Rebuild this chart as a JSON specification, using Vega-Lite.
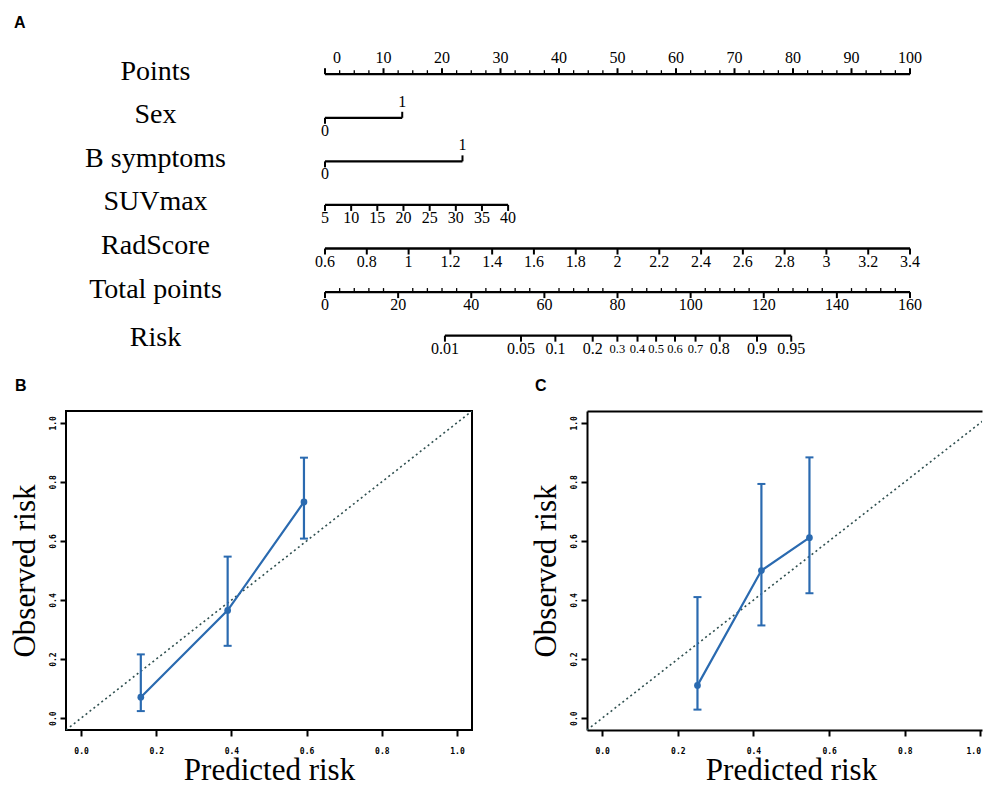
{
  "$schema": "https://vega.github.io/schema/vega-lite/v6.json",
  "padding": 0,
  "background": "white",
  "bounds": "flush",
  "spacing": 41,
  "config": {"view": {"stroke": null}, "font": "Liberation Serif", "text": {"font": "Liberation Serif", "color": "black"}},
  "datasets": {
    "nomo_lines": [
      {"var": "Points", "row": 1, "start": 0, "end": 100},
      {"var": "Sex", "row": 2, "start": 0, "end": 13.2},
      {"var": "B symptoms", "row": 3, "start": 0, "end": 23.5},
      {"var": "SUVmax", "row": 4, "start": 0, "end": 31.3},
      {"var": "RadScore", "row": 5, "start": 0, "end": 100},
      {"var": "Total points", "row": 6, "start": 0, "end": 100},
      {"var": "Risk", "row": 7, "start": 20.5, "end": 79.7}
    ],
    "nomo_ticks": [
      {"var": "Points", "row": 1, "pos": 0, "label": "0"},
      {"var": "Points", "row": 1, "pos": 10, "label": "10"},
      {"var": "Points", "row": 1, "pos": 20, "label": "20"},
      {"var": "Points", "row": 1, "pos": 30, "label": "30"},
      {"var": "Points", "row": 1, "pos": 40, "label": "40"},
      {"var": "Points", "row": 1, "pos": 50, "label": "50"},
      {"var": "Points", "row": 1, "pos": 60, "label": "60"},
      {"var": "Points", "row": 1, "pos": 70, "label": "70"},
      {"var": "Points", "row": 1, "pos": 80, "label": "80"},
      {"var": "Points", "row": 1, "pos": 90, "label": "90"},
      {"var": "Points", "row": 1, "pos": 100, "label": "100"},
      {"var": "Sex", "row": 2, "pos": 0, "label": "0"},
      {"var": "Sex", "row": 2, "pos": 13.2, "label": "1"},
      {"var": "B symptoms", "row": 3, "pos": 0, "label": "0"},
      {"var": "B symptoms", "row": 3, "pos": 23.5, "label": "1"},
      {"var": "SUVmax", "row": 4, "pos": 0, "label": "5"},
      {"var": "SUVmax", "row": 4, "pos": 4.47, "label": "10"},
      {"var": "SUVmax", "row": 4, "pos": 8.94, "label": "15"},
      {"var": "SUVmax", "row": 4, "pos": 13.41, "label": "20"},
      {"var": "SUVmax", "row": 4, "pos": 17.89, "label": "25"},
      {"var": "SUVmax", "row": 4, "pos": 22.36, "label": "30"},
      {"var": "SUVmax", "row": 4, "pos": 26.83, "label": "35"},
      {"var": "SUVmax", "row": 4, "pos": 31.3, "label": "40"},
      {"var": "RadScore", "row": 5, "pos": 0, "label": "0.6"},
      {"var": "RadScore", "row": 5, "pos": 7.14, "label": "0.8"},
      {"var": "RadScore", "row": 5, "pos": 14.29, "label": "1"},
      {"var": "RadScore", "row": 5, "pos": 21.43, "label": "1.2"},
      {"var": "RadScore", "row": 5, "pos": 28.57, "label": "1.4"},
      {"var": "RadScore", "row": 5, "pos": 35.71, "label": "1.6"},
      {"var": "RadScore", "row": 5, "pos": 42.86, "label": "1.8"},
      {"var": "RadScore", "row": 5, "pos": 50, "label": "2"},
      {"var": "RadScore", "row": 5, "pos": 57.14, "label": "2.2"},
      {"var": "RadScore", "row": 5, "pos": 64.29, "label": "2.4"},
      {"var": "RadScore", "row": 5, "pos": 71.43, "label": "2.6"},
      {"var": "RadScore", "row": 5, "pos": 78.57, "label": "2.8"},
      {"var": "RadScore", "row": 5, "pos": 85.71, "label": "3"},
      {"var": "RadScore", "row": 5, "pos": 92.86, "label": "3.2"},
      {"var": "RadScore", "row": 5, "pos": 100, "label": "3.4"},
      {"var": "Total points", "row": 6, "pos": 0, "label": "0"},
      {"var": "Total points", "row": 6, "pos": 12.5, "label": "20"},
      {"var": "Total points", "row": 6, "pos": 25, "label": "40"},
      {"var": "Total points", "row": 6, "pos": 37.5, "label": "60"},
      {"var": "Total points", "row": 6, "pos": 50, "label": "80"},
      {"var": "Total points", "row": 6, "pos": 62.5, "label": "100"},
      {"var": "Total points", "row": 6, "pos": 75, "label": "120"},
      {"var": "Total points", "row": 6, "pos": 87.5, "label": "140"},
      {"var": "Total points", "row": 6, "pos": 100, "label": "160"},
      {"var": "Risk", "row": 7, "pos": 20.5, "label": "0.01"},
      {"var": "Risk", "row": 7, "pos": 33.5, "label": "0.05"},
      {"var": "Risk", "row": 7, "pos": 39.38, "label": "0.1"},
      {"var": "Risk", "row": 7, "pos": 45.76, "label": "0.2"},
      {"var": "Risk", "row": 7, "pos": 49.98, "label": "0.3"},
      {"var": "Risk", "row": 7, "pos": 53.42, "label": "0.4"},
      {"var": "Risk", "row": 7, "pos": 56.6, "label": "0.5"},
      {"var": "Risk", "row": 7, "pos": 59.83, "label": "0.6"},
      {"var": "Risk", "row": 7, "pos": 63.34, "label": "0.7"},
      {"var": "Risk", "row": 7, "pos": 67.47, "label": "0.8"},
      {"var": "Risk", "row": 7, "pos": 73.85, "label": "0.9"},
      {"var": "Risk", "row": 7, "pos": 79.7, "label": "0.95"}
    ],
    "nomo_minor": [
      {"row": 1, "pos": 2.5}, {"row": 1, "pos": 5}, {"row": 1, "pos": 7.5},
      {"row": 1, "pos": 12.5}, {"row": 1, "pos": 15}, {"row": 1, "pos": 17.5},
      {"row": 1, "pos": 22.5}, {"row": 1, "pos": 25}, {"row": 1, "pos": 27.5},
      {"row": 1, "pos": 32.5}, {"row": 1, "pos": 35}, {"row": 1, "pos": 37.5},
      {"row": 1, "pos": 42.5}, {"row": 1, "pos": 45}, {"row": 1, "pos": 47.5},
      {"row": 1, "pos": 52.5}, {"row": 1, "pos": 55}, {"row": 1, "pos": 57.5},
      {"row": 1, "pos": 62.5}, {"row": 1, "pos": 65}, {"row": 1, "pos": 67.5},
      {"row": 1, "pos": 72.5}, {"row": 1, "pos": 75}, {"row": 1, "pos": 77.5},
      {"row": 1, "pos": 82.5}, {"row": 1, "pos": 85}, {"row": 1, "pos": 87.5},
      {"row": 1, "pos": 92.5}, {"row": 1, "pos": 95}, {"row": 1, "pos": 97.5},
      {"row": 6, "pos": 2.5}, {"row": 6, "pos": 5}, {"row": 6, "pos": 7.5}, {"row": 6, "pos": 10},
      {"row": 6, "pos": 15}, {"row": 6, "pos": 17.5}, {"row": 6, "pos": 20}, {"row": 6, "pos": 22.5},
      {"row": 6, "pos": 27.5}, {"row": 6, "pos": 30}, {"row": 6, "pos": 32.5}, {"row": 6, "pos": 35},
      {"row": 6, "pos": 40}, {"row": 6, "pos": 42.5}, {"row": 6, "pos": 45}, {"row": 6, "pos": 47.5},
      {"row": 6, "pos": 52.5}, {"row": 6, "pos": 55}, {"row": 6, "pos": 57.5}, {"row": 6, "pos": 60},
      {"row": 6, "pos": 65}, {"row": 6, "pos": 67.5}, {"row": 6, "pos": 70}, {"row": 6, "pos": 72.5},
      {"row": 6, "pos": 77.5}, {"row": 6, "pos": 80}, {"row": 6, "pos": 82.5}, {"row": 6, "pos": 85},
      {"row": 6, "pos": 90}, {"row": 6, "pos": 92.5}, {"row": 6, "pos": 95}, {"row": 6, "pos": 97.5}
    ],
    "diag": [{"p": -0.04}, {"p": 1.04}],
    "calB": [
      {"pred": 0.159, "obs": 0.071, "lo": 0.024, "hi": 0.216},
      {"pred": 0.39, "obs": 0.365, "lo": 0.245, "hi": 0.547},
      {"pred": 0.593, "obs": 0.732, "lo": 0.608, "hi": 0.882}
    ],
    "calC": [
      {"pred": 0.252, "obs": 0.111, "lo": 0.029, "hi": 0.41},
      {"pred": 0.421, "obs": 0.5, "lo": 0.314, "hi": 0.793},
      {"pred": 0.548, "obs": 0.611, "lo": 0.423, "hi": 0.883}
    ]
  },
  "vconcat": [
    {
      "width": 984,
      "height": 370,
      "title": {"text": "A", "anchor": "start", "frame": "group", "dx": 14, "dy": 11, "offset": -33, "baseline": "alphabetic", "font": "Liberation Sans", "fontSize": 16, "fontWeight": "bold", "color": "black"},
      "resolve": {"axis": {"x": "independent", "y": "independent"}},
      "layer": [
        {
          "data": {"name": "nomo_lines"},
          "mark": {"type": "rule", "strokeWidth": 2.3, "color": "black"},
          "encoding": {
            "x": {"field": "start", "type": "quantitative", "scale": {"domain": [-55.56, 112.65], "nice": false, "zero": false}, "axis": null},
            "x2": {"field": "end"},
            "y": {"field": "row", "type": "quantitative", "scale": {"domain": [-0.703, 7.788], "reverse": true, "nice": false, "zero": false},
              "axis": {"orient": "left", "offset": -155, "values": [1, 2, 3, 4, 5, 6, 7],
                "labelExpr": "['','Points','Sex','B symptoms','SUVmax','RadScore','Total points','Risk'][datum.value]",
                "domain": false, "ticks": false, "tickSize": 0, "grid": false, "labelAlign": "center", "labelBaseline": "middle",
                "labelPadding": 0, "labelFont": "Liberation Serif", "labelFontSize": 28, "labelColor": "black",
                "labelOffset": {"condition": {"test": "datum.value === 7", "value": 2}, "value": -3},
                "labelOverlap": false, "labelBound": false, "labelFlush": false, "title": null}}
          }
        },
        {
          "data": {"name": "nomo_ticks"},
          "transform": [{"filter": "datum.var === 'Points' || (datum.label === '1' && (datum.var === 'Sex' || datum.var === 'B symptoms'))"}],
          "mark": {"type": "rule", "strokeWidth": 2, "color": "black", "y2Offset": -6},
          "encoding": {
            "x": {"field": "pos", "type": "quantitative", "scale": {"domain": [-55.56, 112.65], "nice": false, "zero": false}, "axis": null},
            "y": {"field": "row", "type": "quantitative", "scale": {"domain": [-0.703, 7.788], "reverse": true, "nice": false, "zero": false}, "axis": null},
            "y2": {"field": "row"}
          }
        },
        {
          "data": {"name": "nomo_ticks"},
          "transform": [{"filter": "!(datum.var === 'Points' || (datum.label === '1' && (datum.var === 'Sex' || datum.var === 'B symptoms')))"}],
          "mark": {"type": "rule", "strokeWidth": 2, "color": "black", "y2Offset": 6},
          "encoding": {
            "x": {"field": "pos", "type": "quantitative", "scale": {"domain": [-55.56, 112.65], "nice": false, "zero": false}, "axis": null},
            "y": {"field": "row", "type": "quantitative", "scale": {"domain": [-0.703, 7.788], "reverse": true, "nice": false, "zero": false}, "axis": null},
            "y2": {"field": "row"}
          }
        },
        {
          "data": {"name": "nomo_minor"},
          "mark": {"type": "rule", "strokeWidth": 1.3, "color": "black", "y2Offset": -4},
          "encoding": {
            "x": {"field": "pos", "type": "quantitative", "scale": {"domain": [-55.56, 112.65], "nice": false, "zero": false}, "axis": null},
            "y": {"field": "row", "type": "quantitative", "scale": {"domain": [-0.703, 7.788], "reverse": true, "nice": false, "zero": false}, "axis": null},
            "y2": {"field": "row"}
          }
        },
        {
          "data": {"name": "nomo_ticks"},
          "transform": [{"filter": "(datum.var === 'Points' && datum.label !== '0') || (datum.label === '1' && (datum.var === 'Sex' || datum.var === 'B symptoms'))"}],
          "mark": {"type": "text", "fontSize": 16, "baseline": "alphabetic", "dy": -11, "color": "black"},
          "encoding": {
            "x": {"field": "pos", "type": "quantitative", "scale": {"domain": [-55.56, 112.65], "nice": false, "zero": false}, "axis": null},
            "y": {"field": "row", "type": "quantitative", "scale": {"domain": [-0.703, 7.788], "reverse": true, "nice": false, "zero": false}, "axis": null},
            "text": {"field": "label"}
          }
        },
        {
          "data": {"name": "nomo_ticks"},
          "transform": [{"filter": "datum.var === 'Points' && datum.label === '0'"}],
          "mark": {"type": "text", "fontSize": 16, "baseline": "alphabetic", "dy": -11, "dx": 12, "color": "black"},
          "encoding": {
            "x": {"field": "pos", "type": "quantitative", "scale": {"domain": [-55.56, 112.65], "nice": false, "zero": false}, "axis": null},
            "y": {"field": "row", "type": "quantitative", "scale": {"domain": [-0.703, 7.788], "reverse": true, "nice": false, "zero": false}, "axis": null},
            "text": {"field": "label"}
          }
        },
        {
          "data": {"name": "nomo_ticks"},
          "transform": [{"filter": "!(datum.var === 'Points' || (datum.label === '1' && (datum.var === 'Sex' || datum.var === 'B symptoms'))) && !(datum.var === 'Risk' && toNumber(datum.label) >= 0.3 && toNumber(datum.label) <= 0.7)"}],
          "mark": {"type": "text", "fontSize": 16, "baseline": "alphabetic", "dy": 18, "color": "black"},
          "encoding": {
            "x": {"field": "pos", "type": "quantitative", "scale": {"domain": [-55.56, 112.65], "nice": false, "zero": false}, "axis": null},
            "y": {"field": "row", "type": "quantitative", "scale": {"domain": [-0.703, 7.788], "reverse": true, "nice": false, "zero": false}, "axis": null},
            "text": {"field": "label"}
          }
        },
        {
          "data": {"name": "nomo_ticks"},
          "transform": [{"filter": "datum.var === 'Risk' && toNumber(datum.label) >= 0.3 && toNumber(datum.label) <= 0.7"}],
          "mark": {"type": "text", "fontSize": 12.5, "baseline": "alphabetic", "dy": 17, "color": "black"},
          "encoding": {
            "x": {"field": "pos", "type": "quantitative", "scale": {"domain": [-55.56, 112.65], "nice": false, "zero": false}, "axis": null},
            "y": {"field": "row", "type": "quantitative", "scale": {"domain": [-0.703, 7.788], "reverse": true, "nice": false, "zero": false}, "axis": null},
            "text": {"field": "label"}
          }
        }
      ]
    },
    {
      "hconcat": [
        {
          "width": 66, "height": 319,
          "data": {"values": [{"a": 1}]},
          "mark": {"type": "point", "opacity": 0},
          "encoding": {}
        },
        {
          "width": 406, "height": 319,
          "view": {"stroke": "black", "strokeWidth": 2},
          "title": {"text": "B", "anchor": "start", "frame": "group", "dx": -51, "dy": 5, "offset": 9, "baseline": "alphabetic", "font": "Liberation Sans", "fontSize": 16, "fontWeight": "bold", "color": "black"},
          "resolve": {"axis": {"x": "independent", "y": "independent"}},
          "layer": [
            {
              "data": {"name": "diag"},
              "mark": {"type": "line", "color": "#2f4f4f", "strokeDash": [2, 3], "strokeWidth": 1.6, "clip": true},
              "encoding": {
                "x": {"field": "p", "type": "quantitative", "scale": {"domain": [-0.04, 1.04], "nice": false, "zero": false},
                  "axis": {"values": [0, 0.2, 0.4, 0.6, 0.8, 1], "format": ".1f", "labelFont": "DejaVu Sans Mono", "labelFontSize": 8, "labelFontWeight": "bold", "labelColor": "black",
                    "tickSize": 6, "tickWidth": 2, "tickColor": "black", "domain": false, "grid": false, "labelPadding": 11, "labelFlush": false, "labelOverlap": false,
                    "title": "Predicted risk", "titleFont": "Liberation Serif", "titleFontSize": 31, "titleFontWeight": "normal", "titleColor": "black", "titlePadding": 0}},
                "y": {"field": "p", "type": "quantitative", "scale": {"domain": [-0.04, 1.04], "nice": false, "zero": false},
                  "axis": {"values": [0, 0.2, 0.4, 0.6, 0.8, 1], "format": ".1f", "labelFont": "DejaVu Sans Mono", "labelFontSize": 8, "labelFontWeight": "bold", "labelColor": "black",
                    "labelAngle": 270, "labelAlign": "center", "labelBaseline": "bottom",
                    "tickSize": 6, "tickWidth": 2, "tickColor": "black", "domain": false, "grid": false, "labelPadding": 3, "labelFlush": false, "labelOverlap": false,
                    "title": "Observed risk", "titleFont": "Liberation Serif", "titleFontSize": 31, "titleFontWeight": "normal", "titleColor": "black", "titlePadding": 8}}
              }
            },
            {
              "data": {"name": "calB"},
              "mark": {"type": "line", "color": "#2a6ab0", "strokeWidth": 2.2},
              "encoding": {
                "x": {"field": "pred", "type": "quantitative", "scale": {"domain": [-0.04, 1.04], "nice": false, "zero": false}, "axis": null},
                "y": {"field": "obs", "type": "quantitative", "scale": {"domain": [-0.04, 1.04], "nice": false, "zero": false}, "axis": null}
              }
            },
            {
              "data": {"name": "calB"},
              "mark": {"type": "rule", "color": "#2a6ab0", "strokeWidth": 2.2},
              "encoding": {
                "x": {"field": "pred", "type": "quantitative", "axis": null},
                "y": {"field": "lo", "type": "quantitative", "axis": null},
                "y2": {"field": "hi"}
              }
            },
            {
              "data": {"name": "calB"},
              "mark": {"type": "tick", "orient": "horizontal", "color": "#2a6ab0", "thickness": 2, "size": 8, "opacity": 1},
              "encoding": {
                "x": {"field": "pred", "type": "quantitative", "axis": null},
                "y": {"field": "lo", "type": "quantitative", "axis": null}
              }
            },
            {
              "data": {"name": "calB"},
              "mark": {"type": "tick", "orient": "horizontal", "color": "#2a6ab0", "thickness": 2, "size": 8, "opacity": 1},
              "encoding": {
                "x": {"field": "pred", "type": "quantitative", "axis": null},
                "y": {"field": "hi", "type": "quantitative", "axis": null}
              }
            },
            {
              "data": {"name": "calB"},
              "mark": {"type": "circle", "color": "#2a6ab0", "size": 45, "opacity": 1},
              "encoding": {
                "x": {"field": "pred", "type": "quantitative", "axis": null},
                "y": {"field": "obs", "type": "quantitative", "axis": null}
              }
            }
          ]
        },
        {
          "width": 115, "height": 319,
          "data": {"values": [{"a": 1}]},
          "mark": {"type": "point", "opacity": 0},
          "encoding": {}
        },
        {
          "width": 395, "height": 319,
          "title": {"text": "C", "anchor": "start", "frame": "group", "dx": -52, "dy": 5, "offset": 9, "baseline": "alphabetic", "font": "Liberation Sans", "fontSize": 16, "fontWeight": "bold", "color": "black"},
          "resolve": {"axis": {"x": "independent", "y": "independent"}},
          "layer": [
            {
              "data": {"name": "diag"},
              "mark": {"type": "line", "color": "#2f4f4f", "strokeDash": [2, 3], "strokeWidth": 1.6, "clip": true},
              "encoding": {
                "x": {"field": "p", "type": "quantitative", "scale": {"domain": [-0.04, 1.0041], "nice": false, "zero": false},
                  "axis": {"orient": "top", "labels": false, "ticks": false, "domain": true, "domainColor": "black", "domainWidth": 2, "grid": false, "title": null}},
                "y": {"field": "p", "type": "quantitative", "scale": {"domain": [-0.04, 1.04], "nice": false, "zero": false},
                  "axis": {"values": [0, 0.2, 0.4, 0.6, 0.8, 1], "format": ".1f", "labelFont": "DejaVu Sans Mono", "labelFontSize": 8, "labelFontWeight": "bold", "labelColor": "black",
                    "labelAngle": 270, "labelAlign": "center", "labelBaseline": "bottom",
                    "tickSize": 6, "tickWidth": 2, "tickColor": "black", "domain": true, "domainColor": "black", "domainWidth": 2, "grid": false, "labelPadding": 3, "labelFlush": false, "labelOverlap": false,
                    "title": "Observed risk", "titleFont": "Liberation Serif", "titleFontSize": 31, "titleFontWeight": "normal", "titleColor": "black", "titlePadding": 8}}
              }
            },
            {
              "data": {"name": "calC"},
              "mark": {"type": "line", "color": "#2a6ab0", "strokeWidth": 2.2},
              "encoding": {
                "x": {"field": "pred", "type": "quantitative",
                  "axis": {"orient": "bottom", "values": [0, 0.2, 0.4, 0.6, 0.8, 1], "format": ".1f", "labelFont": "DejaVu Sans Mono", "labelFontSize": 8, "labelFontWeight": "bold", "labelColor": "black",
                    "tickSize": 6, "tickWidth": 2, "tickColor": "black", "domain": true, "domainColor": "black", "domainWidth": 2, "grid": false, "labelPadding": 11, "labelFlush": 5, "labelOverlap": false,
                    "title": "Predicted risk", "titleFont": "Liberation Serif", "titleFontSize": 31, "titleFontWeight": "normal", "titleColor": "black", "titlePadding": 0, "titleX": 204}},
                "y": {"field": "obs", "type": "quantitative", "axis": null}
              }
            },
            {
              "data": {"name": "calC"},
              "mark": {"type": "rule", "color": "#2a6ab0", "strokeWidth": 2.2},
              "encoding": {
                "x": {"field": "pred", "type": "quantitative", "axis": null},
                "y": {"field": "lo", "type": "quantitative", "axis": null},
                "y2": {"field": "hi"}
              }
            },
            {
              "data": {"name": "calC"},
              "mark": {"type": "tick", "orient": "horizontal", "color": "#2a6ab0", "thickness": 2, "size": 8, "opacity": 1},
              "encoding": {
                "x": {"field": "pred", "type": "quantitative", "axis": null},
                "y": {"field": "lo", "type": "quantitative", "axis": null}
              }
            },
            {
              "data": {"name": "calC"},
              "mark": {"type": "tick", "orient": "horizontal", "color": "#2a6ab0", "thickness": 2, "size": 8, "opacity": 1},
              "encoding": {
                "x": {"field": "pred", "type": "quantitative", "axis": null},
                "y": {"field": "hi", "type": "quantitative", "axis": null}
              }
            },
            {
              "data": {"name": "calC"},
              "mark": {"type": "circle", "color": "#2a6ab0", "size": 45, "opacity": 1},
              "encoding": {
                "x": {"field": "pred", "type": "quantitative", "axis": null},
                "y": {"field": "obs", "type": "quantitative", "axis": null}
              }
            }
          ]
        }
      ],
      "spacing": 0,
      "bounds": "flush"
    }
  ]
}
